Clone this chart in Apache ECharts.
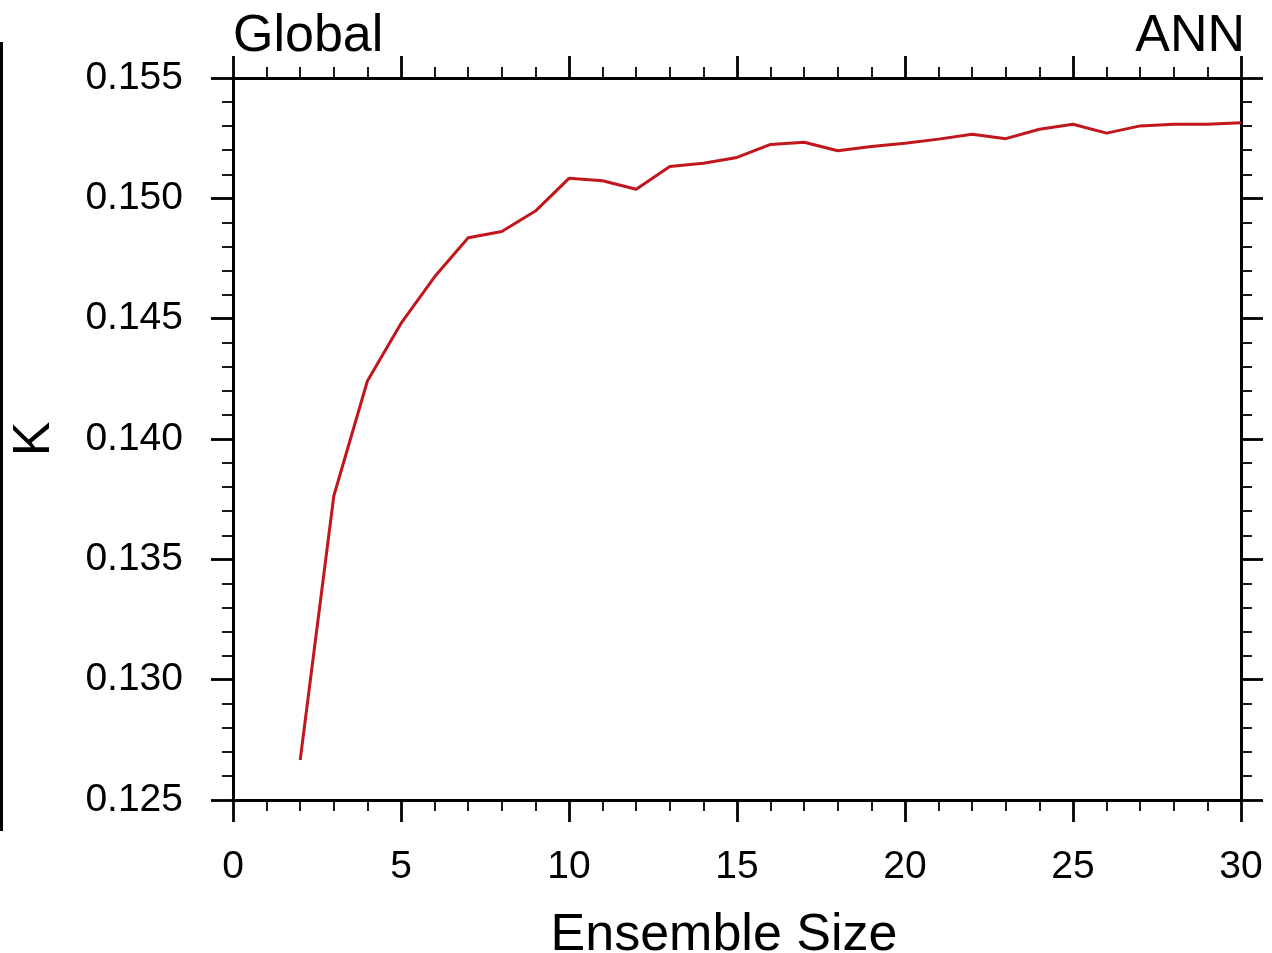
<!DOCTYPE html>
<html>
<head>
<meta charset="utf-8">
<script src="https://cdn.jsdelivr.net/npm/echarts@6/dist/echarts.min.js"></script>
<style>
html,body{margin:0;padding:0;background:#fff;}
#chart{width:1272px;height:953px;}
</style>
</head>
<body>
<div id="chart"></div>
<script>
// Data
const ensembleSize = [2, 3, 4, 5, 6, 7, 8, 9, 10, 11, 12, 13, 14, 15, 16, 17, 18, 19, 20, 21, 22, 23, 24, 25, 26, 27, 28, 29, 30];
const kValues = [0.12666, 0.13763, 0.14241, 0.14480, 0.14674, 0.14836, 0.14862, 0.14947, 0.15083, 0.15073, 0.15038,
                 0.15132, 0.15146, 0.15170, 0.15224, 0.15233, 0.15198, 0.15215, 0.15229, 0.15246, 0.15266, 0.15248,
                 0.15287, 0.15308, 0.15271, 0.15301, 0.15308, 0.15308, 0.15314];
const titleLeft = 'Global';
const titleRight = 'ANN';
const xName = 'Ensemble Size';
const yName = 'K';

const FONT = 'Liberation Sans';
const chart = echarts.init(document.getElementById('chart'), null, {renderer: 'canvas'});

const axisLineStyle = {color: '#000', width: 3};
function xAxisCfg(pos, showLabels) {
  return {
    type: 'value', position: pos, min: 0, max: 30, interval: 5,
    axisLine: {show: true, onZero: false, lineStyle: axisLineStyle},
    axisTick: {show: true, inside: false, length: 22, lineStyle: {color: '#000', width: 2.8}},
    minorTick: {show: true, splitNumber: 5, length: 11, lineStyle: {color: '#000', width: 1.8}},
    splitLine: {show: false},
    axisLabel: {show: showLabels, margin: 48, fontFamily: FONT, fontSize: 39, color: '#000'},
    name: showLabels ? xName : '',
    nameLocation: 'middle', nameGap: 110,
    nameTextStyle: {fontFamily: FONT, fontSize: 52, color: '#000', padding: [0, 26, 0, 0]}
  };
}
function yAxisCfg(pos, showLabels) {
  return {
    type: 'value', position: pos, min: 0.125, max: 0.155, interval: 0.005,
    axisLine: {show: true, onZero: false, lineStyle: axisLineStyle},
    axisTick: {show: true, inside: false, length: 22, lineStyle: {color: '#000', width: 2.8}},
    minorTick: {show: true, splitNumber: 5, length: 11, lineStyle: {color: '#000', width: 1.8}},
    splitLine: {show: false},
    axisLabel: {show: showLabels, margin: 50, fontFamily: FONT, fontSize: 39, color: '#000',
      formatter: v => v.toFixed(3)},
    name: showLabels ? yName : '',
    nameLocation: 'middle', nameGap: 172, nameRotate: 90,
    nameTextStyle: {fontFamily: FONT, fontSize: 52, color: '#000'}
  };
}

chart.setOption({
  backgroundColor: '#fff',
  animation: false,
  title: [
    {text: titleLeft, left: 228, top: 6, textStyle: {fontFamily: FONT, fontSize: 52, fontWeight: 'normal', color: '#000'}},
    {text: titleRight, right: 22, top: 6, textStyle: {fontFamily: FONT, fontSize: 52, fontWeight: 'normal', color: '#000'}}
  ],
  grid: {left: 233, right: 31, top: 78, bottom: 153, containLabel: false, outerBoundsMode: 'none'},
  xAxis: [xAxisCfg('bottom', true), xAxisCfg('top', false)],
  yAxis: [yAxisCfg('left', true), yAxisCfg('right', false)],
  series: [{
    type: 'line', xAxisIndex: 0, yAxisIndex: 0,
    data: ensembleSize.map((x, i) => [x, kValues[i]]),
    showSymbol: false, symbol: 'none',
    lineStyle: {color: '#c0161c', width: 3},
    itemStyle: {color: '#c0161c'}
  }],
  graphic: [{
    type: 'rect', shape: {x: 0, y: 42, width: 3, height: 789}, style: {fill: '#000'}
  }]
});
</script>
</body>
</html>
